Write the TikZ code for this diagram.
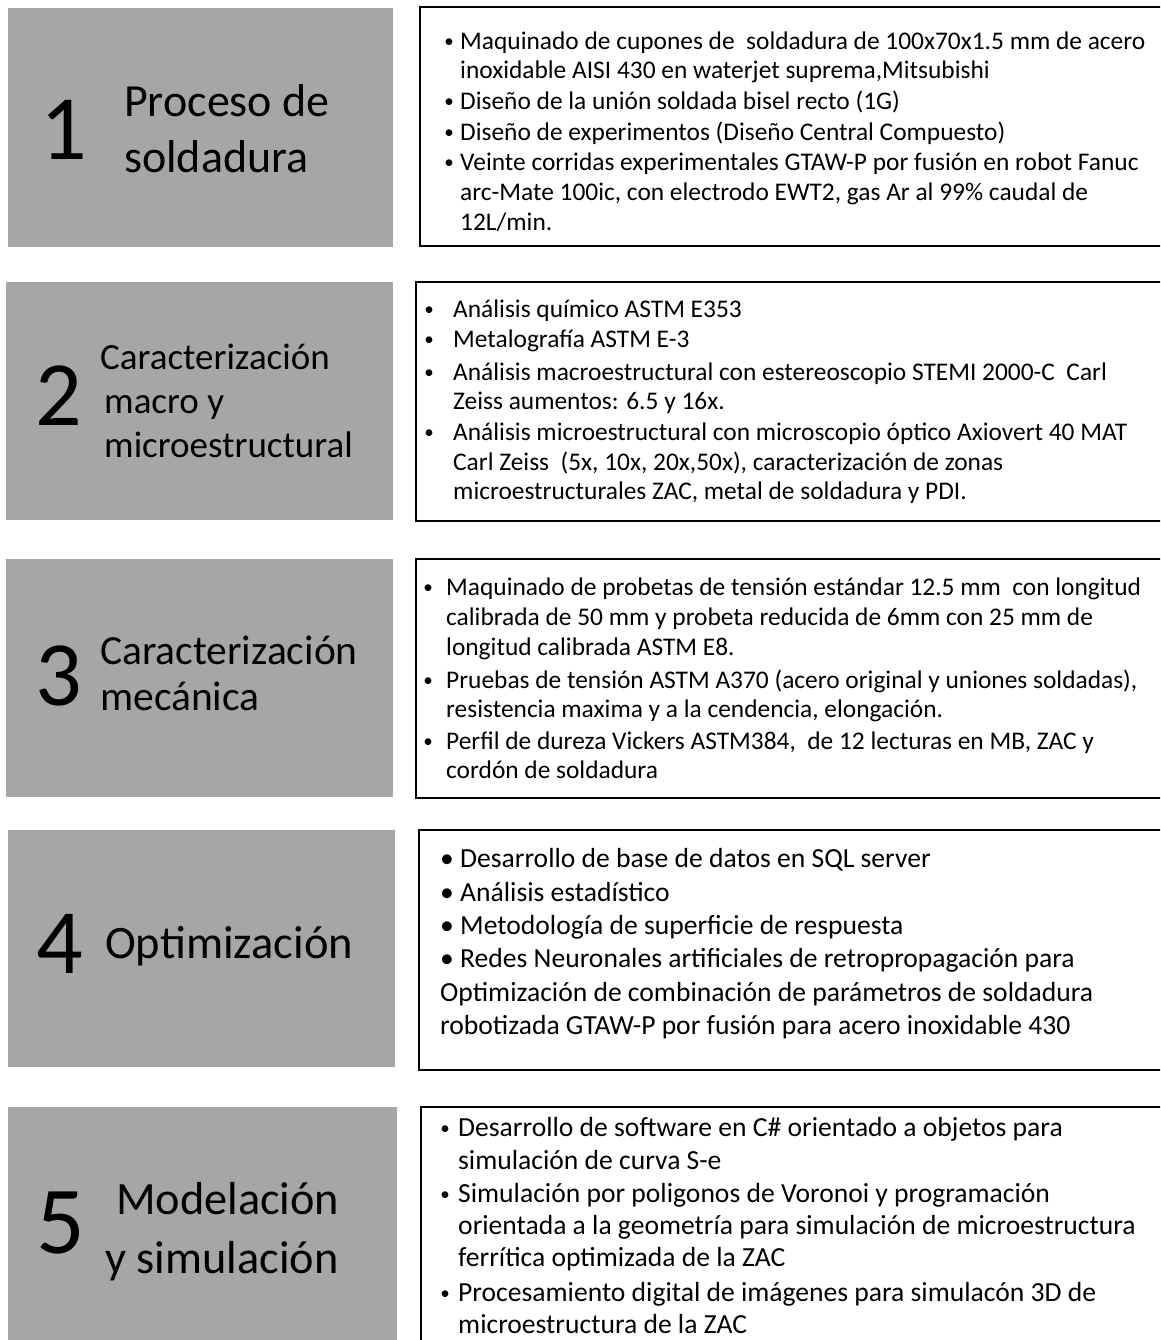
\documentclass[tikz,border=0pt]{standalone}
\usepackage{fontspec}
\setmainfont{Carlito}
\definecolor{panelgrey}{HTML}{A6A6A6}
\tikzset{
  x=1pt, y=-1pt,
  greybox/.style={fill=panelgrey, draw=none},
  listbox/.style={draw=black, line width=2.4pt, fill=white},
  num/.style={anchor=base, inner sep=0pt, font=\fontsize{92}{92}\selectfont},
  ttl/.style={anchor=base west, inner sep=0pt, text depth=0pt},
  txt/.style={anchor=base west, inner sep=0pt, font=\fontsize{25.4}{30}\selectfont},
  txtb/.style={anchor=base west, inner sep=0pt, font=\fontsize{27.6}{33}\selectfont},
  dot/.style={anchor=base, inner sep=0pt, font=\fontsize{19}{22}\selectfont},
}
\begin{document}
\begin{tikzpicture}
\clip (0,0) rectangle (1160,1340);
\fill[white] (0,0) rectangle (1160,1340);

% left panels
\path[greybox] (8,8) rectangle (393,247);
\path[greybox] (6,282) rectangle (393,520);
\path[greybox] (6,559) rectangle (393,797);
\path[greybox] (8,830) rectangle (395,1067);
\path[greybox] (8,1107) rectangle (397,1350);

% right panels
\path[listbox] (420,7) rectangle (1175,246);
\path[listbox] (416,282) rectangle (1175,521);
\path[listbox] (416,559) rectangle (1175,798);
\path[listbox] (419,830) rectangle (1175,1070);
\path[listbox] (421,1107) rectangle (1175,1360);

% step 1
\node[num] (n1) at (64,160) {1};
\node[ttl, font=\fontsize{46}{46}\selectfont] (h1a) at (124,117) {Proceso de};
\node[ttl, font=\fontsize{46}{46}\selectfont] (h1b) at (124,173) {soldadura};
\node[dot] (d1a) at (449,48) {•};
\node[txt] (t1a) at (460,50) {Maquinado de cupones de \ soldadura de 100x70x1.5 mm de acero};
\node[txt] (t1b) at (460,79) {inoxidable AISI 430 en waterjet suprema,Mitsubishi};
\node[dot] (d1c) at (449,108) {•};
\node[txt] (t1c) at (460,110) {Diseño de la unión soldada bisel recto (1G)};
\node[dot] (d1d) at (449,139) {•};
\node[txt] (t1d) at (460,141) {Diseño de experimentos (Diseño Central Compuesto)};
\node[dot] (d1e) at (449,169) {•};
\node[txt] (t1e) at (460,171) {Veinte corridas experimentales GTAW-P por fusión en robot Fanuc};
\node[txt] (t1f) at (460,201) {arc-Mate 100ic, con electrodo EWT2, gas Ar al 99\% caudal de};
\node[txt] (t1g) at (460,231) {12L/min.};

% step 2
\node[num] (n2) at (59,425) {2};
\node[ttl, font=\fontsize{37}{37}\selectfont] (h2a) at (100,369) {Caracterización};
\node[ttl, font=\fontsize{37}{37}\selectfont] (h2b) at (104,413) {macro y};
\node[ttl, font=\fontsize{37}{37}\selectfont] (h2c) at (104,457) {microestructural};
\node[dot] (d2a) at (429,315) {•};
\node[txt] (t2a) at (453,317) {Análisis químico ASTM E353};
\node[dot] (d2b) at (429,345) {•};
\node[txt] (t2b) at (453,347) {Metalografía ASTM E-3};
\node[dot] (d2c) at (429,378) {•};
\node[txt] (t2c) at (453,380) {Análisis macroestructural con estereoscopio STEMI 2000-C \ Carl};
\node[txt] (t2d) at (453,409) {Zeiss aumentos: 6.5 y 16x.};
\node[dot] (d2e) at (429,438) {•};
\node[txt] (t2e) at (453,440) {Análisis microestructural con microscopio óptico Axiovert 40 MAT};
\node[txt] (t2f) at (453,470) {Carl Zeiss \ (5x, 10x, 20x,50x), caracterización de zonas};
\node[txt] (t2g) at (453,499) {microestructurales ZAC, metal de soldadura y PDI.};

% step 3
\node[num] (n3) at (59,705) {3};
\node[ttl, font=\fontsize{41.5}{41.5}\selectfont] (h3a) at (100,664) {Caracterización};
\node[ttl, font=\fontsize{41.5}{41.5}\selectfont] (h3b) at (100,710) {mecánica};
\node[dot] (d3a) at (428,593) {•};
\node[txt] (t3a) at (446,595) {Maquinado de probetas de tensión estándar 12.5 mm \ con longitud};
\node[txt] (t3b) at (446,625) {calibrada de 50 mm y probeta reducida de 6mm con 25 mm de};
\node[txt] (t3c) at (446,655) {longitud calibrada ASTM E8.};
\node[dot] (d3d) at (428,686) {•};
\node[txt] (t3d) at (446,688) {Pruebas de tensión ASTM A370 (acero original y uniones soldadas),};
\node[txt] (t3e) at (446,717) {resistencia maxima y a la cendencia, elongación.};
\node[dot] (d3f) at (428,747) {•};
\node[txt] (t3f) at (446,749) {Perfil de dureza Vickers ASTM384, \ de 12 lecturas en MB, ZAC y};
\node[txt] (t3g) at (446,778) {cordón de soldadura};

% step 4
\node[num] (n4) at (60,973) {4};
\node[ttl, font=\fontsize{46.5}{46.5}\selectfont] (h4a) at (105,958) {Optimización};
\node[txtb] (t4a) at (440,867) {• Desarrollo de base de datos en SQL server};
\node[txtb] (t4b) at (440,901) {• Análisis estadístico};
\node[txtb] (t4c) at (440,934) {• Metodología de superficie de respuesta};
\node[txtb] (t4d) at (440,967) {• Redes Neuronales artificiales de retropropagación para};
\node[txtb] (t4e) at (440,1001) {Optimización de combinación de parámetros de soldadura};
\node[txtb] (t4f) at (440,1034) {robotizada GTAW-P por fusión para acero inoxidable 430};

% step 5
\node[num, font=\fontsize{96}{96}\selectfont] (n5) at (61,1253) {5};
\node[ttl, font=\fontsize{46.3}{46.3}\selectfont] (h5a) at (116,1214) {Modelación};
\node[ttl, font=\fontsize{46.3}{46.3}\selectfont] (h5b) at (105,1273) {y simulación};
\node[dot] (d5a) at (445,1134) {•};
\node[txtb] (t5a) at (458,1136) {Desarrollo de software en C\# orientado a objetos para};
\node[txtb] (t5b) at (458,1169) {simulación de curva S-e};
\node[dot] (d5c) at (445,1200) {•};
\node[txtb] (t5c) at (458,1202) {Simulación por poligonos de Voronoi y programación};
\node[txtb] (t5d) at (458,1234) {orientada a la geometría para simulación de microestructura};
\node[txtb] (t5e) at (458,1266) {ferrítica optimizada de la ZAC};
\node[dot] (d5f) at (445,1299) {•};
\node[txtb] (t5f) at (458,1301) {Procesamiento digital de imágenes para simulacón 3D de};
\node[txtb] (t5g) at (458,1333) {microestructura de la ZAC};
\end{tikzpicture}
\end{document}
